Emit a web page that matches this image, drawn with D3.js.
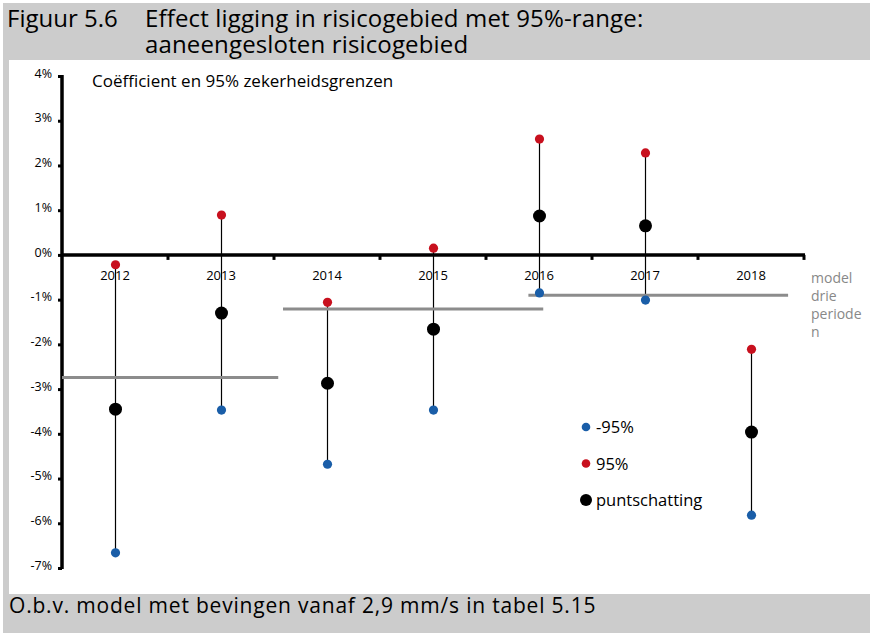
<!DOCTYPE html>
<html><head><meta charset="utf-8">
<script src="https://cdn.jsdelivr.net/npm/d3@7"></script>
<style>body{margin:0;background:#fff}svg{display:block}text{font-family:"Open Sans",sans-serif}</style>
</head><body>
<svg id="c" width="870" height="633"></svg>
<script>
const years = ["2012","2013","2014","2015","2016","2017","2018"];
const lower = [-6.66,-3.47,-4.68,-3.47,-0.85,-1.01,-5.82];
const upper = [-0.22,0.89,-1.06,0.15,2.59,2.28,-2.11];
const estimate = [-3.45,-1.30,-2.87,-1.66,0.87,0.65,-3.96];
const yTicks = [4,3,2,1,0,-1,-2,-3,-4,-5,-6,-7];
// three-period model: value and span in category-index units
const periodValue = [-2.74,-1.21,-0.90];
const periodFrom = [-0.5,1.585,3.9];
const periodTo = [1.54,4.04,6.35];
const legendLabels = ["-95%","95%","puntschatting"];
const legendColors = ["#1a5ea8","#c8101e","#000"];

const svg = d3.select("#c");
// frame
svg.append("rect").attr("x",3).attr("y",3).attr("width",867).attr("height",57).attr("fill","#cccccc");
svg.append("rect").attr("x",3).attr("y",60).attr("width",6).attr("height",534).attr("fill","#cccccc");
svg.append("rect").attr("x",3).attr("y",594).attr("width",867).attr("height",39).attr("fill","#cccccc");
svg.append("text").attr("x",7).attr("y",27).attr("font-size",24).text("Figuur 5.6");
svg.append("text").attr("x",145).attr("y",27).attr("font-size",24).attr("letter-spacing",0.15).text("Effect ligging in risicogebied met 95%-range:");
svg.append("text").attr("x",145).attr("y",53).attr("font-size",24).attr("letter-spacing",0.15).text("aaneengesloten risicogebied");
svg.append("text").attr("x",9).attr("y",613).attr("font-size",21).attr("letter-spacing",0.8)
  .text("O.b.v. model met bevingen vanaf 2,9 mm/s in tabel 5.15");

const x = d3.scaleBand().domain(years).range([62,804]);
const y = d3.scaleLinear().domain([-7,4]).range([568,76]);
const xi = i => x.range()[0] + (i+0.5)*x.bandwidth();

// y axis
const ya = svg.append("g").attr("transform","translate(62,0)")
  .call(d3.axisLeft(y).tickValues(yTicks).tickSize(4).tickFormat(d=>d+"%"));
ya.select(".domain").attr("stroke-width",3.5).attr("d",`M0,${y(4)-1}V${y(-7)+1}`);
ya.selectAll(".tick line").attr("stroke-width",3);
ya.selectAll(".tick text").attr("font-size",12.5).attr("font-family","Open Sans").attr("x",-10).attr("dy","0.1em");

// x axis at 0
const xa = svg.append("g").attr("transform",`translate(0,${y(0)})`);
xa.append("line").attr("x1",62).attr("x2",805).attr("stroke","#000").attr("stroke-width",3.5);
xa.selectAll("line.tk").data(years).join("line").attr("class","tk")
  .attr("x1",d=>x(d)+x.bandwidth()).attr("x2",d=>x(d)+x.bandwidth())
  .attr("y1",0).attr("y2",5).attr("stroke","#000").attr("stroke-width",3);
xa.selectAll("text").data(years).join("text")
  .attr("x",d=>x(d)+x.bandwidth()/2).attr("y",25).attr("text-anchor","middle")
  .attr("font-size",13).text(d=>d);

svg.append("text").attr("x",92).attr("y",87).attr("font-size",17).text("Coëfficient en 95% zekerheidsgrenzen");

// error bars
svg.selectAll("line.eb").data(years).join("line").attr("class","eb")
  .attr("x1",d=>Math.round(x(d)+x.bandwidth()/2)+0.5).attr("x2",d=>Math.round(x(d)+x.bandwidth()/2)+0.5)
  .attr("y1",(d,i)=>y(lower[i])).attr("y2",(d,i)=>y(upper[i]))
  .attr("stroke","#000").attr("stroke-width",1.2);

// period lines
svg.selectAll("line.per").data(periodValue).join("line").attr("class","per")
  .attr("x1",(d,i)=>xi(periodFrom[i])).attr("x2",(d,i)=>xi(periodTo[i]))
  .attr("y1",d=>y(d)).attr("y2",d=>y(d))
  .attr("stroke","#8c8c8c").attr("stroke-width",3);

// dots
const cx = d=>Math.round(x(d)+x.bandwidth()/2)+0.5;
svg.selectAll("circle.lo").data(years).join("circle").attr("class","lo")
  .attr("cx",cx).attr("cy",(d,i)=>y(lower[i])).attr("r",4.6).attr("fill",legendColors[0]);
svg.selectAll("circle.up").data(years).join("circle").attr("class","up")
  .attr("cx",cx).attr("cy",(d,i)=>y(upper[i])).attr("r",4.6).attr("fill",legendColors[1]);
svg.selectAll("circle.est").data(years).join("circle").attr("class","est")
  .attr("cx",cx).attr("cy",(d,i)=>y(estimate[i])).attr("r",6.5).attr("fill",legendColors[2]);

// side label
const side = svg.append("text").attr("x",811).attr("font-size",14).attr("fill","#888");
["model","drie","periode","n"].forEach((t,i)=>side.append("tspan").attr("x",811).attr("y",283+i*18).text(t));

// legend
const lg = svg.append("g");
legendLabels.forEach((t,i)=>{
  const ly = 427 + i*36.5;
  lg.append("circle").attr("cx",586).attr("cy",ly).attr("r",i==2?6:4.3).attr("fill",legendColors[i]);
  lg.append("text").attr("x",596).attr("y",ly+6).attr("font-size",16.5).text(t);
});
</script>
</body></html>
